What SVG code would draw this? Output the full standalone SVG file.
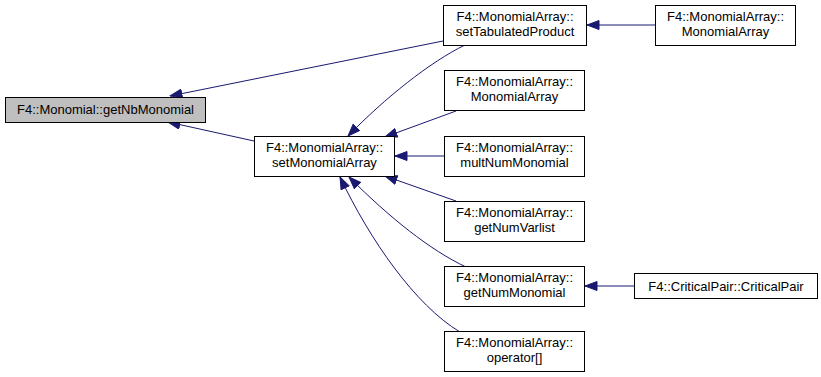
<svg xmlns="http://www.w3.org/2000/svg" width="821" height="377" viewBox="0 0 821 377">
  <style>
    .node rect { fill: #ffffff; stroke: #000000; stroke-width: 1; }
    .node.focus rect { fill: #bfbfbf; }
    .node text { font-family: "Liberation Sans", Arial, sans-serif; font-size: 13px; fill: #000000; text-anchor: middle; }
    .edge { fill: none; stroke: #191970; stroke-width: 1; marker-end: url(#arrow); }
  </style>
  <defs>
    <marker id="arrow" viewBox="0 0 13 10" refX="12.5" refY="5" markerWidth="13" markerHeight="10" markerUnits="userSpaceOnUse" orient="auto">
      <path d="M0.5,0.5 L12.5,5 L0.5,9.5 Z" fill="#191970" stroke="#191970" stroke-width="1"/>
    </marker>
  </defs>

  <!-- call edges: caller -> callee -->
  <g id="edges">
    <path class="edge" d="M443,41 L170,96"/>
    <path class="edge" d="M254,141 L168,122"/>
    <path class="edge" d="M465,45 C430,62 385,98 348,136"/>
    <path class="edge" d="M456,111 L385,137"/>
    <path class="edge" d="M444,156 L395,156"/>
    <path class="edge" d="M456,201 L385,176"/>
    <path class="edge" d="M466,267 C430,250 390,218 349,177"/>
    <path class="edge" d="M460,332 C415,305 370,240 340,177"/>
    <path class="edge" d="M655,25 L587,25"/>
    <path class="edge" d="M634,286 L585,286"/>
  </g>

  <g id="getNbMonomial" class="node focus">
    <rect x="5.5" y="97.5" width="200" height="25"/>
    <text x="105.5" y="114">F4::Monomial::getNbMonomial</text>
  </g>

  <g id="setMonomialArray" class="node">
    <rect x="254.5" y="136.5" width="140" height="40"/>
    <text x="324.5" y="152">F4::MonomialArray::</text>
    <text x="324.5" y="167">setMonomialArray</text>
  </g>

  <g id="setTabulatedProduct" class="node">
    <rect x="443.5" y="5.5" width="143" height="40"/>
    <text x="515" y="21">F4::MonomialArray::</text>
    <text x="515" y="36">setTabulatedProduct</text>
  </g>

  <g id="MonomialArray_ctor_right" class="node">
    <rect x="655.5" y="5.5" width="140" height="40"/>
    <text x="725.5" y="21">F4::MonomialArray::</text>
    <text x="725.5" y="36">MonomialArray</text>
  </g>

  <g id="MonomialArray_ctor" class="node">
    <rect x="444.5" y="70.5" width="140" height="40"/>
    <text x="514.5" y="86">F4::MonomialArray::</text>
    <text x="514.5" y="101">MonomialArray</text>
  </g>

  <g id="multNumMonomial" class="node">
    <rect x="444.5" y="136.5" width="140" height="40"/>
    <text x="514.5" y="152">F4::MonomialArray::</text>
    <text x="514.5" y="167">multNumMonomial</text>
  </g>

  <g id="getNumVarlist" class="node">
    <rect x="444.5" y="201.5" width="140" height="40"/>
    <text x="514.5" y="217">F4::MonomialArray::</text>
    <text x="514.5" y="232">getNumVarlist</text>
  </g>

  <g id="getNumMonomial" class="node">
    <rect x="444.5" y="266.5" width="140" height="40"/>
    <text x="514.5" y="282">F4::MonomialArray::</text>
    <text x="514.5" y="297">getNumMonomial</text>
  </g>

  <g id="operator_index" class="node">
    <rect x="444.5" y="331.5" width="140" height="40"/>
    <text x="514.5" y="347">F4::MonomialArray::</text>
    <text x="514.5" y="362">operator[]</text>
  </g>

  <g id="CriticalPair" class="node">
    <rect x="634.5" y="273.5" width="183" height="25"/>
    <text x="726" y="290.5">F4::CriticalPair::CriticalPair</text>
  </g>
</svg>
